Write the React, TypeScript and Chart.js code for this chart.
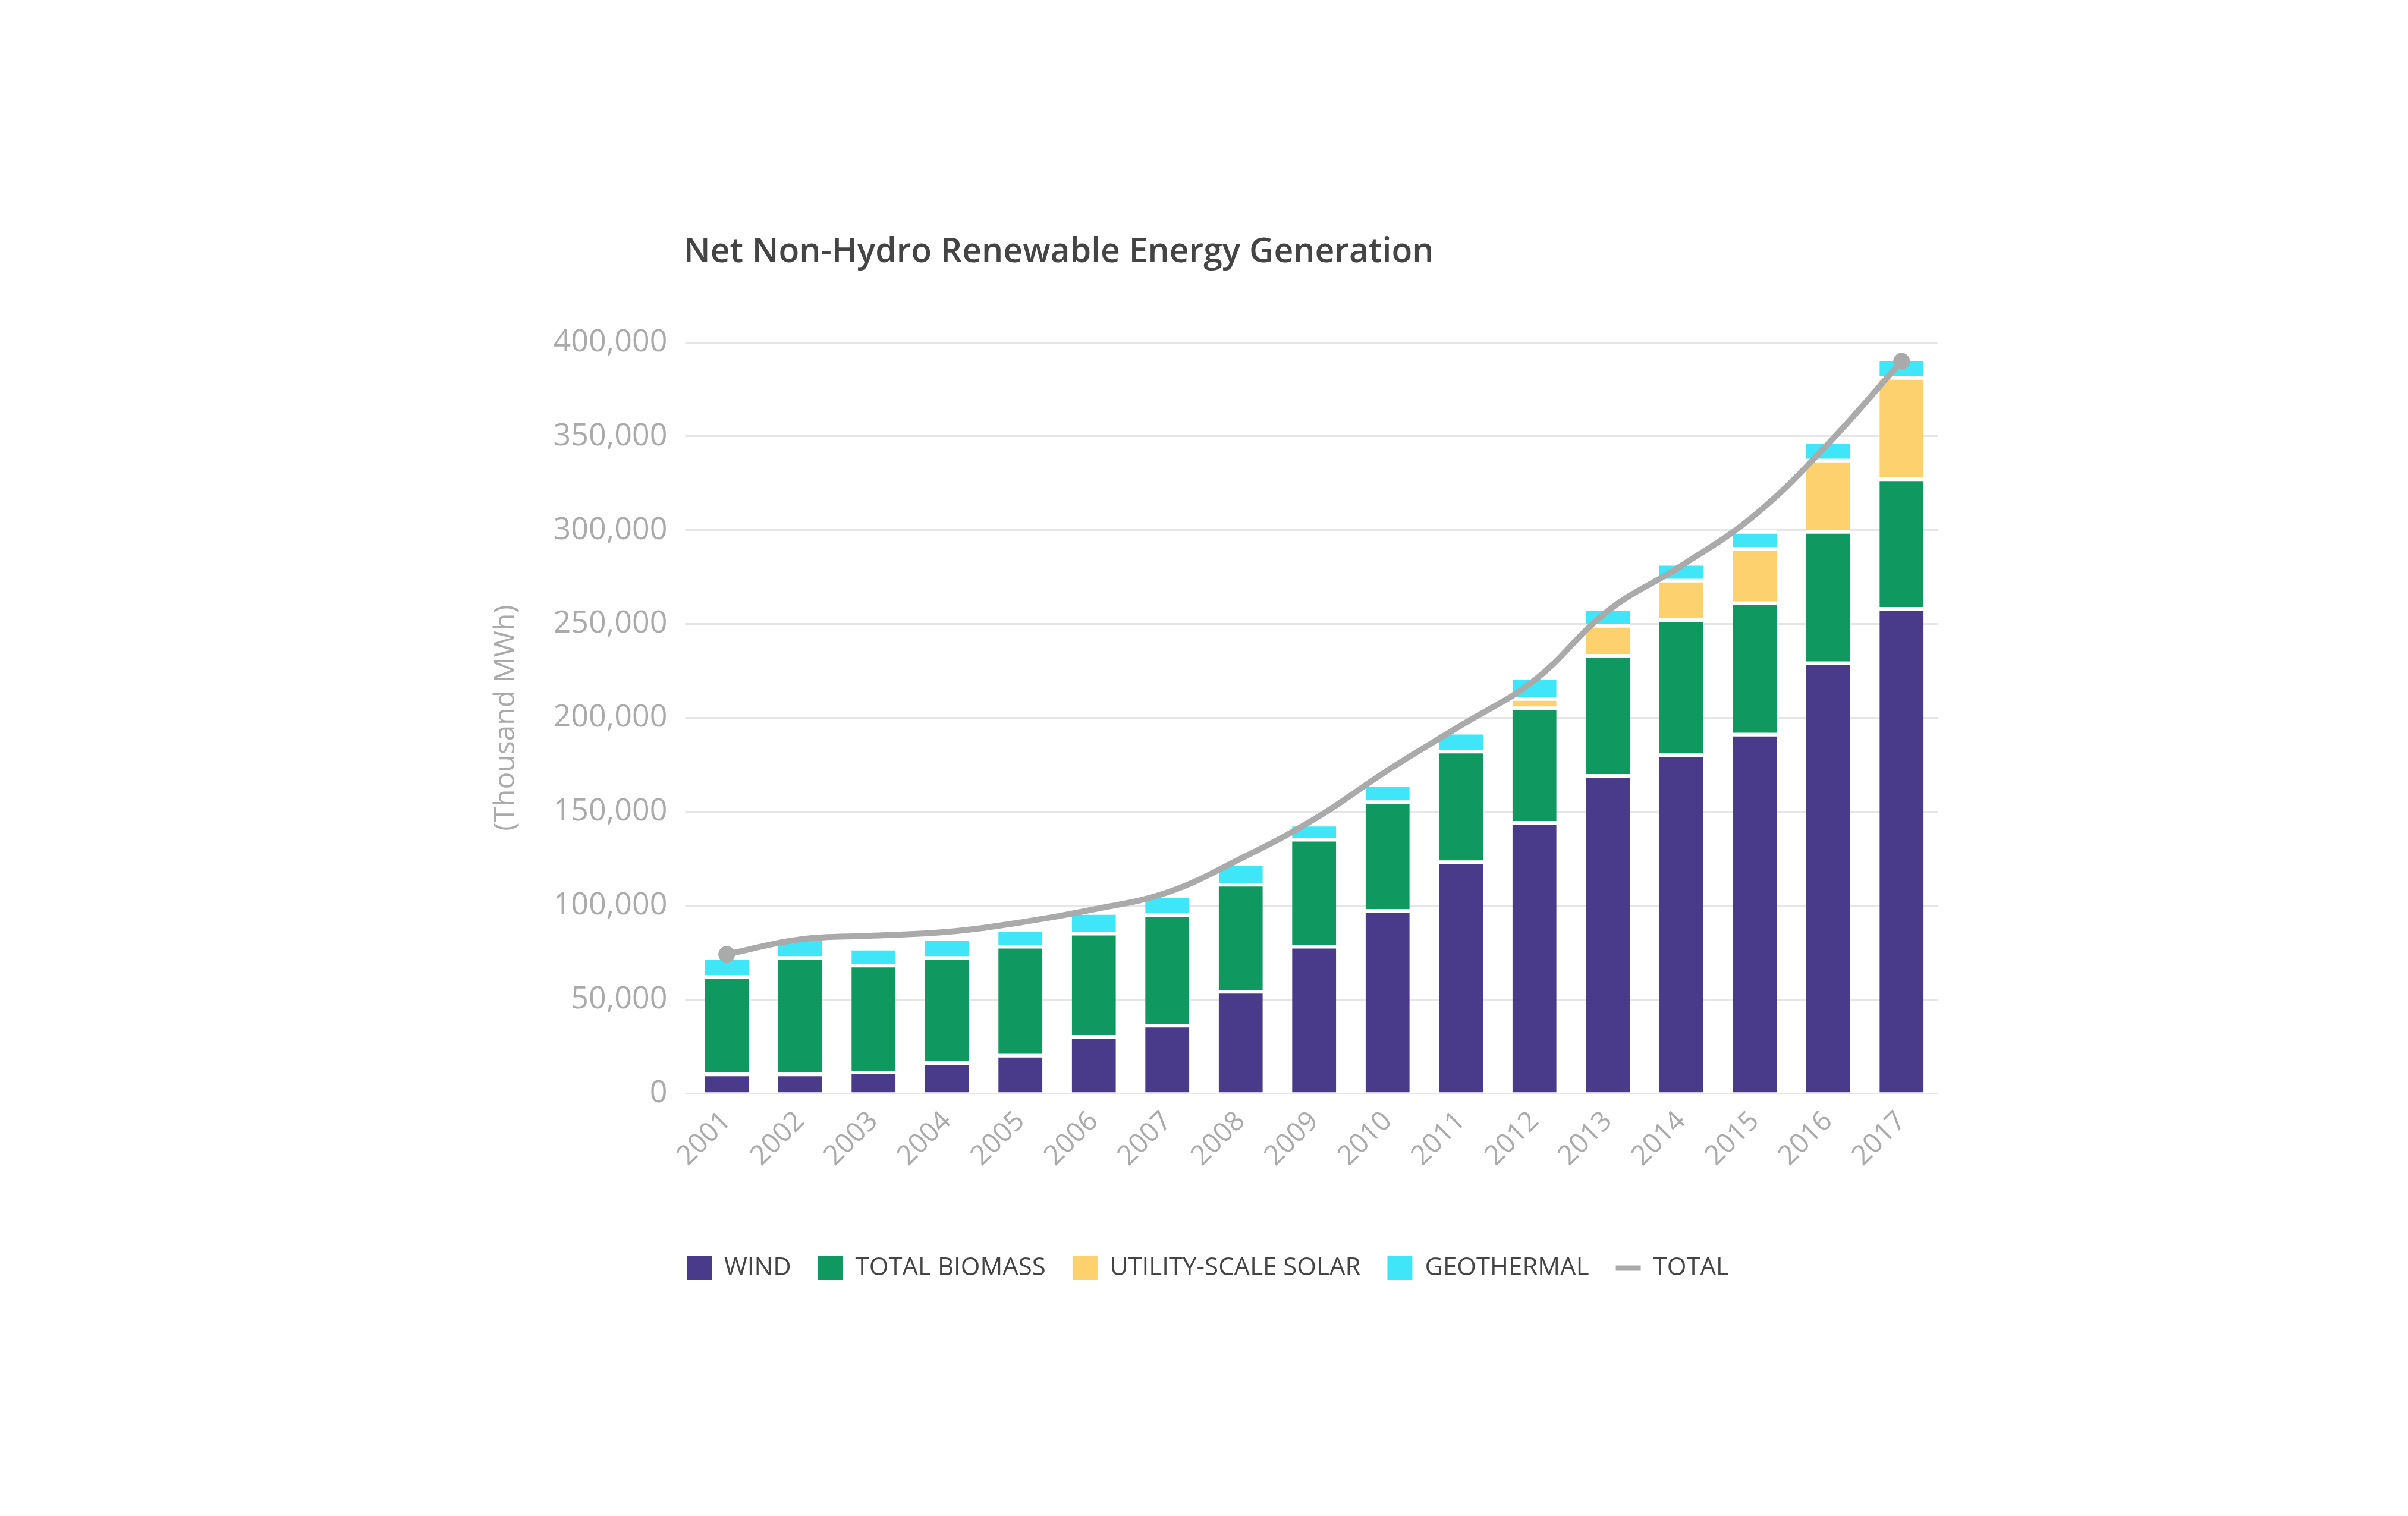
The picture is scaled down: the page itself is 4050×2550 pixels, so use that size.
import React, { useEffect, useRef } from "react";
import { Chart, registerables } from "chart.js";
Chart.register(...registerables);

const years = ["2001","2002","2003","2004","2005","2006","2007","2008","2009","2010","2011","2012","2013","2014","2015","2016","2017"];
const wind = [11,11,12,17,21,31,37,55,79,98,124,145,170,181,192,230,259].map(v => v * 1000);
const biomass = [52,62,57,56,58,55,59,57,57,58,59,61,64,72,70,70,69].map(v => v * 1000);
const solar = [0,0,0,0,0,0,0,0,0,0,0,5,16,21,29,38,54].map(v => v * 1000);
const geothermal = [10,10,9,10,9,11,10,11,8,9,10,11,9,9,9,10,10].map(v => v * 1000);
const total = [74,82,84,86,91,98,107,125,146,172,196,220,257,281,308,346,390].map(v => v * 1000);

const FONT = "'Open Sans', sans-serif";

export default function App() {
  const ref = useRef<HTMLCanvasElement>(null);
  useEffect(() => {
    const bar = (label: string, data: number[], color: string) => ({
      type: "bar" as const, label, data, backgroundColor: color, borderColor: "#ffffff",
      borderWidth: { top: 6, left: 0, right: 0, bottom: 0 }, borderSkipped: false, stack: "s", order: 2,
    });
    const n = total.length;
    const chart = new Chart(ref.current!, {
      type: "bar",
      data: {
        labels: years,
        datasets: [
          bar("WIND", wind, "#4a3b8a"),
          bar("TOTAL BIOMASS", biomass, "#0f9960"),
          bar("UTILITY-SCALE SOLAR", solar, "#fdd16e"),
          bar("GEOTHERMAL", geothermal, "#3ee6f8"),
          {
            type: "line" as const, label: "TOTAL", data: total, borderColor: "#aaaaaa", backgroundColor: "#aaaaaa",
            borderWidth: 10, tension: 0.4, order: 1,
            pointRadius: total.map((_, i) => (i === 0 || i === n - 1 ? 9 : 0)),
            pointStyle: "circle",
          } as any,
        ],
      },
      options: {
        responsive: false, animation: false,
        layout: { padding: { left: 803, right: 790, top: 576, bottom: 386 } },
        scales: {
          x: {
            stacked: true, grid: { display: false }, border: { display: false },
            ticks: { color: "#aaaaaa", font: { family: FONT, size: 46 }, maxRotation: 45, minRotation: 45, padding: 12 },
            afterFit: (s: any) => { s.height = 228; },
          },
          y: {
            stacked: true, min: 0, max: 400000, border: { display: false },
            grid: { color: "#e6e6e6", lineWidth: 3 },
            ticks: { stepSize: 50000, color: "#aaaaaa", font: { family: FONT, size: 52 }, padding: 30 },
            title: { display: true, text: "(Thousand MWh)", color: "#aaaaaa", font: { family: FONT, size: 48 }, padding: 20 },
          },
        },
        datasets: { bar: { categoryPercentage: 1, barPercentage: 0.6 } },
        plugins: {
          tooltip: { enabled: false },
          legend: {
            position: "bottom",
            labels: {
              color: "#444444", font: { family: FONT, size: 42 }, boxWidth: 40, boxHeight: 40, padding: 45,
              usePointStyle: true, pointStyleWidth: 42,
              generateLabels: (c: any) => c.data.datasets.map((d: any, i: number) => ({
                text: d.label, fillStyle: d.backgroundColor, strokeStyle: d.backgroundColor,
                lineWidth: i === 4 ? 9 : 0,
                fontColor: "#444444", datasetIndex: i, hidden: false,
                pointStyle: i === 4 ? "line" : "rect",
              })),
            },
          },
        },
      } as any,
    });
    return () => chart.destroy();
  }, []);
  return (
    <div style={{ position: "absolute", left: 0, top: 0, width: 4050, height: 2550, background: "#fff" }}>
      <div style={{ position: "absolute", left: 1150, top: 380, fontFamily: FONT, fontSize: 57, fontWeight: 600, color: "#444444" }}>
        Net Non-Hydro Renewable Energy Generation
      </div>
      <canvas ref={ref} width={4050} height={2550} style={{ width: 4050, height: 2550 }} />
    </div>
  );
}
